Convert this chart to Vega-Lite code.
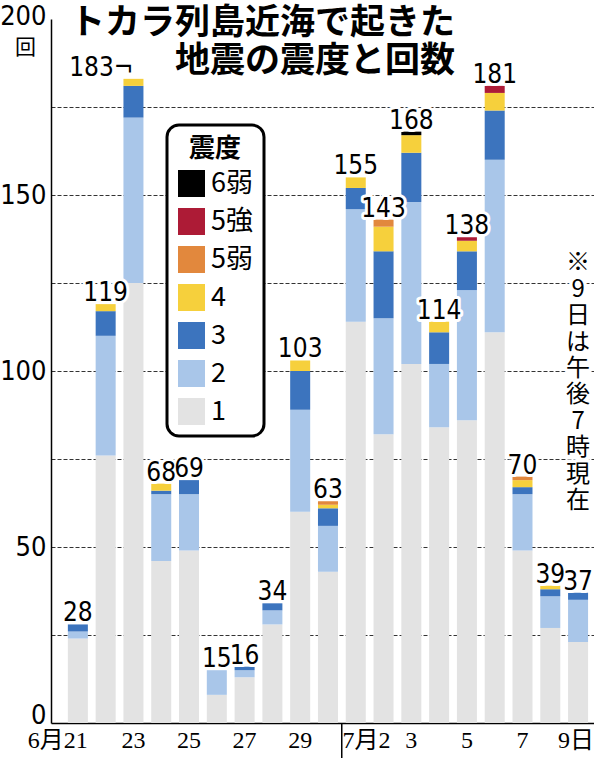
{
  "$schema": "https://vega.github.io/schema/vega-lite/v6.json",
  "description": "トカラ列島近海で起きた地震の震度と回数",
  "autosize": {"type": "none"},
  "padding": {"left": 51, "top": 19, "right": 0, "bottom": 35},
  "width": 543,
  "height": 704,
  "background": "white",
  "title": {
    "text": ["トカラ列島近海で起きた", "地震の震度と回数"],
    "orient": "top",
    "anchor": "start",
    "frame": "group",
    "align": "right",
    "baseline": "top",
    "dx": 404,
    "dy": 77,
    "offset": 0,
    "font": "Noto Sans CJK JP",
    "fontSize": 35,
    "fontWeight": "bold",
    "lineHeight": 38,
    "color": "black"
  },
  "data": {
    "values": [
      {"date": "6/21", "shindo": "1", "count": 24},
      {"date": "6/21", "shindo": "2", "count": 2},
      {"date": "6/21", "shindo": "3", "count": 2},
      {"date": "6/22", "shindo": "1", "count": 76},
      {"date": "6/22", "shindo": "2", "count": 34},
      {"date": "6/22", "shindo": "3", "count": 7},
      {"date": "6/22", "shindo": "4", "count": 2},
      {"date": "6/23", "shindo": "1", "count": 125},
      {"date": "6/23", "shindo": "2", "count": 47},
      {"date": "6/23", "shindo": "3", "count": 9},
      {"date": "6/23", "shindo": "4", "count": 2},
      {"date": "6/24", "shindo": "1", "count": 46},
      {"date": "6/24", "shindo": "2", "count": 19},
      {"date": "6/24", "shindo": "3", "count": 1},
      {"date": "6/24", "shindo": "4", "count": 2},
      {"date": "6/25", "shindo": "1", "count": 49},
      {"date": "6/25", "shindo": "2", "count": 16},
      {"date": "6/25", "shindo": "3", "count": 4},
      {"date": "6/26", "shindo": "1", "count": 8},
      {"date": "6/26", "shindo": "2", "count": 7},
      {"date": "6/27", "shindo": "1", "count": 13},
      {"date": "6/27", "shindo": "2", "count": 2},
      {"date": "6/27", "shindo": "3", "count": 1},
      {"date": "6/28", "shindo": "1", "count": 28},
      {"date": "6/28", "shindo": "2", "count": 4},
      {"date": "6/28", "shindo": "3", "count": 2},
      {"date": "6/29", "shindo": "1", "count": 60},
      {"date": "6/29", "shindo": "2", "count": 29},
      {"date": "6/29", "shindo": "3", "count": 11},
      {"date": "6/29", "shindo": "4", "count": 3},
      {"date": "6/30", "shindo": "1", "count": 43},
      {"date": "6/30", "shindo": "2", "count": 13},
      {"date": "6/30", "shindo": "3", "count": 5},
      {"date": "6/30", "shindo": "4", "count": 1},
      {"date": "6/30", "shindo": "5弱", "count": 1},
      {"date": "7/1", "shindo": "1", "count": 114},
      {"date": "7/1", "shindo": "2", "count": 32},
      {"date": "7/1", "shindo": "3", "count": 6},
      {"date": "7/1", "shindo": "4", "count": 3},
      {"date": "7/2", "shindo": "1", "count": 82},
      {"date": "7/2", "shindo": "2", "count": 33},
      {"date": "7/2", "shindo": "3", "count": 19},
      {"date": "7/2", "shindo": "4", "count": 7},
      {"date": "7/2", "shindo": "5弱", "count": 2},
      {"date": "7/3", "shindo": "1", "count": 102},
      {"date": "7/3", "shindo": "2", "count": 46},
      {"date": "7/3", "shindo": "3", "count": 14},
      {"date": "7/3", "shindo": "4", "count": 5},
      {"date": "7/3", "shindo": "6弱", "count": 1},
      {"date": "7/4", "shindo": "1", "count": 84},
      {"date": "7/4", "shindo": "2", "count": 18},
      {"date": "7/4", "shindo": "3", "count": 9},
      {"date": "7/4", "shindo": "4", "count": 3},
      {"date": "7/5", "shindo": "1", "count": 86},
      {"date": "7/5", "shindo": "2", "count": 37},
      {"date": "7/5", "shindo": "3", "count": 11},
      {"date": "7/5", "shindo": "4", "count": 3},
      {"date": "7/5", "shindo": "5強", "count": 1},
      {"date": "7/6", "shindo": "1", "count": 111},
      {"date": "7/6", "shindo": "2", "count": 49},
      {"date": "7/6", "shindo": "3", "count": 14},
      {"date": "7/6", "shindo": "4", "count": 5},
      {"date": "7/6", "shindo": "5強", "count": 2},
      {"date": "7/7", "shindo": "1", "count": 49},
      {"date": "7/7", "shindo": "2", "count": 16},
      {"date": "7/7", "shindo": "3", "count": 2},
      {"date": "7/7", "shindo": "4", "count": 2},
      {"date": "7/7", "shindo": "5弱", "count": 1},
      {"date": "7/8", "shindo": "1", "count": 27},
      {"date": "7/8", "shindo": "2", "count": 9},
      {"date": "7/8", "shindo": "3", "count": 2},
      {"date": "7/8", "shindo": "4", "count": 1},
      {"date": "7/9", "shindo": "1", "count": 23},
      {"date": "7/9", "shindo": "2", "count": 12},
      {"date": "7/9", "shindo": "3", "count": 2}
    ]
  },
  "encoding": {
    "x": {
      "field": "date",
      "type": "nominal",
      "sort": null,
      "scale": {"paddingInner": 0.28, "paddingOuter": 0.41, "align": 0.74},
      "axis": {
        "title": null,
        "ticks": false,
        "grid": false,
        "domainColor": "black",
        "domainWidth": 1.5,
        "labelAngle": 0,
        "labelFont": "Liberation Serif, Noto Sans CJK JP",
        "labelFontSize": 24,
        "labelColor": "black",
        "labelBaseline": "top",
        "labelPadding": 5,
        "labelOverlap": false,
        "labelBound": false,
        "labelExpr": "datum.value=='6/21'?'6月21':datum.value=='6/23'?'23':datum.value=='6/25'?'25':datum.value=='6/27'?'27':datum.value=='6/29'?'29':datum.value=='7/2'?'7月2':datum.value=='7/3'?'3':datum.value=='7/5'?'5':datum.value=='7/7'?'7':datum.value=='7/9'?'9日':''",
        "labelAlign": {
          "condition": [
            {"test": "datum.value=='6/21'||datum.value=='7/2'", "value": "right"},
            {"test": "datum.value=='7/9'", "value": "left"}
          ],
          "value": "center"
        },
        "labelOffset": {
          "condition": [
            {"test": "datum.value=='6/21'", "value": 10},
            {"test": "datum.value=='7/2'", "value": 7},
            {"test": "datum.value=='7/9'", "value": -20}
          ],
          "value": 0
        }
      }
    }
  },
  "layer": [
    {
      "mark": {"type": "bar"},
      "encoding": {
        "y": {
          "aggregate": "sum",
          "field": "count",
          "type": "quantitative",
          "scale": {"domain": [0, 200], "nice": false},
          "axis": {
            "title": "回",
            "titleAngle": 0,
            "titleX": -26,
            "titleY": 28,
            "titleAlign": "center",
            "titleBaseline": "middle",
            "titleFont": "Noto Sans CJK JP",
            "titleFontSize": 21,
            "titleFontWeight": "normal",
            "titleColor": "black",
            "values": [0, 25, 50, 75, 100, 125, 150, 175, 200],
            "labelExpr": "datum.value % 50 == 0 ? datum.label : ''",
            "labelFont": "Liberation Sans Narrow, DejaVu Sans Condensed, sans-serif",
            "labelFontSize": 27,
            "labelColor": "black",
            "labelPadding": 5,
            "labelBaseline": {
              "condition": {"test": "datum.value == 0", "value": "alphabetic"},
              "value": "middle"
            },
            "labelOffset": {
              "condition": {"test": "datum.value == 200", "value": -3},
              "value": 0
            },
            "domainColor": "black",
            "domainWidth": 1.5,
            "ticks": true,
            "tickSize": 0,
            "grid": true,
            "gridColor": "#333333",
            "gridDash": [4, 2],
            "gridWidth": 1,
            "gridOpacity": {
              "condition": {"test": "datum.value == 0 || datum.value == 200", "value": 0},
              "value": 1
            }
          }
        },
        "color": {
          "field": "shindo",
          "type": "nominal",
          "scale": {
            "domain": ["6弱", "5強", "5弱", "4", "3", "2", "1"],
            "range": ["#000000", "#ad1b36", "#e2883d", "#f6d03c", "#3c74be", "#a9c6e9", "#e3e3e3"]
          },
          "legend": {
            "title": "震度",
            "orient": "none",
            "legendX": 116,
            "legendY": 106
          }
        },
        "order": {"field": "shindo", "sort": "ascending"}
      }
    },
    {
      "transform": [
        {"aggregate": [{"op": "sum", "field": "count", "as": "total"}], "groupby": ["date"]},
        {"filter": "datum.date != '6/23'"}
      ],
      "mark": {
        "type": "text",
        "baseline": "alphabetic",
        "dy": -3,
        "font": "Liberation Sans Narrow, DejaVu Sans Condensed, sans-serif",
        "fontSize": 26,
        "stroke": "white",
        "strokeWidth": 6,
        "strokeJoin": "round",
        "fill": "white"
      },
      "encoding": {
        "y": {"field": "total", "type": "quantitative"},
        "text": {"field": "total", "type": "quantitative"}
      }
    },
    {
      "transform": [
        {"aggregate": [{"op": "sum", "field": "count", "as": "total"}], "groupby": ["date"]},
        {"filter": "datum.date != '6/23'"}
      ],
      "mark": {
        "type": "text",
        "baseline": "alphabetic",
        "dy": -3,
        "font": "Liberation Sans Narrow, DejaVu Sans Condensed, sans-serif",
        "fontSize": 26,
        "fill": "black"
      },
      "encoding": {
        "y": {"field": "total", "type": "quantitative"},
        "text": {"field": "total", "type": "quantitative"}
      }
    },
    {
      "transform": [
        {"aggregate": [{"op": "sum", "field": "count", "as": "total"}], "groupby": ["date"]},
        {"filter": "datum.date == '6/23'"}
      ],
      "mark": {
        "type": "text",
        "align": "right",
        "baseline": "alphabetic",
        "dx": 0,
        "dy": -3,
        "font": "Liberation Sans Narrow, DejaVu Sans Condensed, sans-serif",
        "fontSize": 26,
        "fill": "black",
        "text": {"expr": "datum.total + '¬'"}
      },
      "encoding": {
        "y": {"field": "total", "type": "quantitative"}
      }
    },
    {
      "data": {"values": [{"date": "7/1"}]},
      "mark": {"type": "rule", "color": "black", "strokeWidth": 1.5, "xOffset": -4},
      "encoding": {
        "x": {"field": "date", "type": "nominal", "bandPosition": 0},
        "y": {"datum": 0},
        "y2": {"datum": -10}
      }
    },
    {
      "data": {"values": [{"date": "7/9", "position": 134, "note": ["※", "9", "日", "は", "午", "後", "7", "時", "現", "在"]}]},
      "mark": {
        "type": "text",
        "baseline": "top",
        "align": "center",
        "font": "Noto Sans CJK JP",
        "fontSize": 24,
        "lineHeight": 26.4,
        "stroke": "white",
        "strokeWidth": 7,
        "strokeJoin": "round",
        "fill": "white"
      },
      "encoding": {
        "y": {"field": "position", "type": "quantitative"},
        "text": {"field": "note"}
      }
    },
    {
      "data": {"values": [{"date": "7/9", "position": 134, "note": ["※", "9", "日", "は", "午", "後", "7", "時", "現", "在"]}]},
      "mark": {
        "type": "text",
        "baseline": "top",
        "align": "center",
        "font": "Noto Sans CJK JP",
        "fontSize": 24,
        "lineHeight": 26.4,
        "fill": "black"
      },
      "encoding": {
        "y": {"field": "position", "type": "quantitative"},
        "text": {"field": "note"}
      }
    }
  ],
  "config": {
    "view": {"stroke": null},
    "legend": {
      "padding": 11,
      "cornerRadius": 12,
      "strokeColor": "black",
      "strokeWidth": 3,
      "fillColor": "white",
      "titleFont": "Noto Sans CJK JP",
      "titleFontSize": 26,
      "titleFontWeight": "bold",
      "titleColor": "black",
      "titleAnchor": "middle",
      "titlePadding": 8,
      "labelFont": "Noto Sans CJK JP",
      "labelFontSize": 27,
      "labelColor": "black",
      "labelOffset": 6,
      "symbolType": "square",
      "symbolSize": 729,
      "symbolStrokeWidth": 0,
      "symbolOpacity": 1,
      "rowPadding": 10
    }
  }
}
